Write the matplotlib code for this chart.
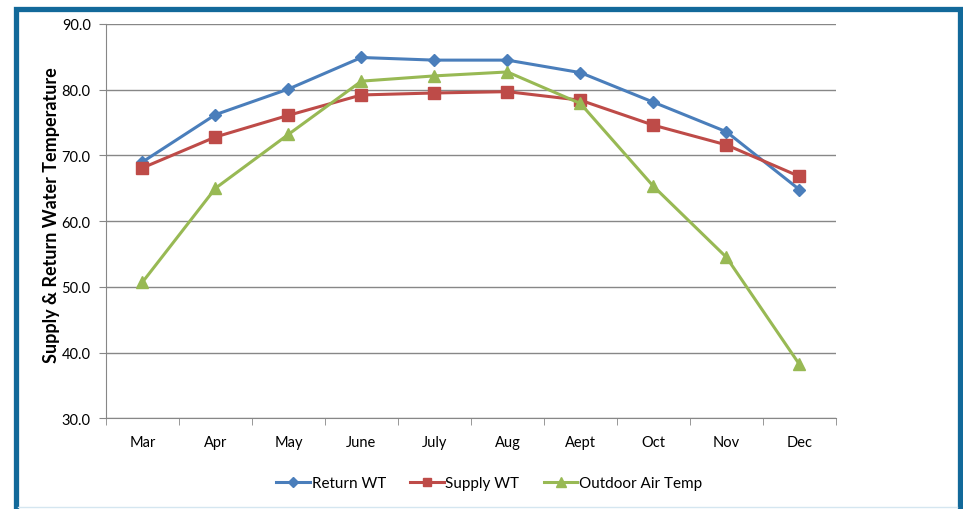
import numpy as np
import matplotlib.pyplot as plt
from matplotlib.patches import Rectangle
from matplotlib.lines import Line2D

# data
months = ["Mar", "Apr", "May", "June", "July", "Aug", "Aept", "Oct", "Nov", "Dec"]
return_wt = [69.0, 76.2, 80.1, 84.9, 84.5, 84.5, 82.6, 78.1, 73.6, 64.8]
supply_wt = [68.1, 72.8, 76.1, 79.2, 79.5, 79.7, 78.4, 74.6, 71.6, 66.8]
outdoor_air = [50.7, 65.0, 73.2, 81.3, 82.1, 82.7, 77.9, 65.3, 54.5, 38.2]

plt.rcParams["font.family"] = ["Lato", "DejaVu Sans"]

fig = plt.figure(figsize=(9.63, 5.10), dpi=100)
ax = fig.add_axes([0.110, 0.178, 0.758, 0.773])

x = np.arange(len(months))
ax.plot(x, return_wt, color="#4A7EBB", lw=2.2, marker="D", ms=6.5,
        label="Return WT")
ax.plot(x, supply_wt, color="#BE4B48", lw=2.2, marker="s", ms=8,
        label="Supply WT")
ax.plot(x, outdoor_air, color="#98B954", lw=2.2, marker="^", ms=8.5,
        label="Outdoor Air Temp")

ax.set_xlim(-0.5, len(months) - 0.5)
ax.set_ylim(30, 90)
ax.set_yticks(np.arange(30, 91, 10))
ax.set_yticklabels([f"{v:.1f}" for v in np.arange(30, 91, 10)], fontsize=10.5)
ax.grid(axis="y", color="#878787", lw=1)
ax.set_axisbelow(True)

ax.set_xticks(x)
ax.set_xticklabels(months, fontsize=10.5)
ax.set_xticks(np.arange(-0.5, len(months)), minor=True)
ax.tick_params(axis="x", which="major", length=0, pad=12)
ax.tick_params(axis="x", which="minor", length=5, color="#878787")
ax.tick_params(axis="y", length=5, color="#878787", pad=6)

for s in ["top", "right"]:
    ax.spines[s].set_visible(False)
for s in ["left", "bottom"]:
    ax.spines[s].set_color("#878787")

ax.set_ylabel("Supply & Return Water Temperature", fontsize=13,
              fontweight="bold", va="center")
ax.yaxis.set_label_coords(-0.074, 0.518)

handles = [Line2D([], [], color=l.get_color(), lw=2.2, marker=l.get_marker(),
                  ms=l.get_markersize() * 0.8) for l in ax.get_lines()]
fig.legend(handles, [l.get_label() for l in ax.get_lines()],
           loc="center", bbox_to_anchor=(0.508, 0.051), ncol=3,
           frameon=False, fontsize=11, handlelength=2.2,
           handletextpad=0.1, columnspacing=1.6)

# blue frame around the chart
fig.patches.append(Rectangle((15.5 / 963, -0.05), 944 / 963, 1.05 - 9.5 / 510,
                             transform=fig.transFigure, fill=False,
                             edgecolor="#12699A", lw=3.8))
fig.lines.append(Line2D([18 / 963, 957 / 963], [2 / 510, 2 / 510],
                        transform=fig.transFigure, color="#D5E6F0", lw=1))

fig.savefig("out.png", dpi=100)
